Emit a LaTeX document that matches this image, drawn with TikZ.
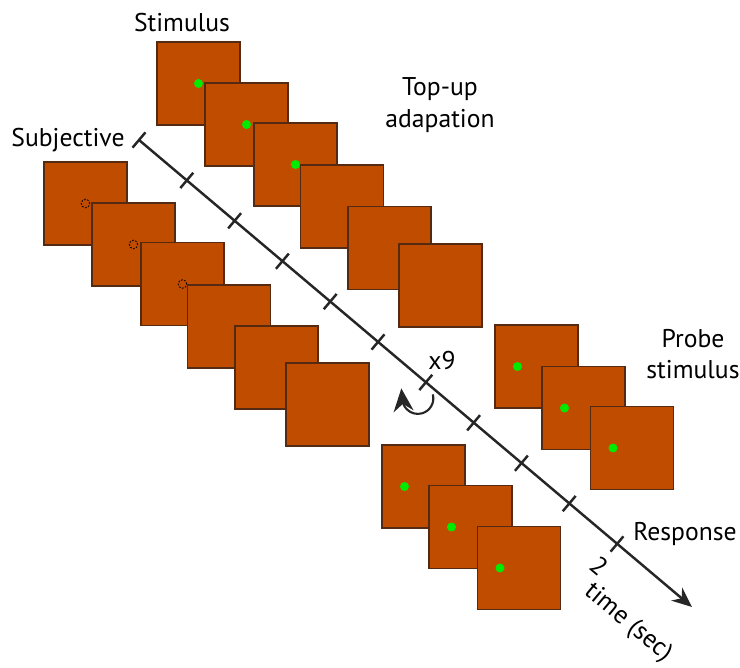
\documentclass[tikz,border=0pt]{standalone}
\usepackage{fontspec}
\setmainfont{PT Sans}
\usepackage{tikz}
\usetikzlibrary{arrows.meta,calc}
\definecolor{screen}{RGB}{192,76,0}
\definecolor{screenedge}{RGB}{84,42,18}
\definecolor{fix}{RGB}{0,235,0}

\begin{document}
\begin{tikzpicture}[x=0.02cm,y=-0.02cm]
	 \tikzstyle{frame}=[rectangle,draw=screenedge,line width=0.6pt,fill=screen,minimum size=1.66cm,inner sep=0pt]
	 \tikzstyle{dot}=[circle,fill=fix,minimum size=0.18cm,inner sep=0pt]
	 \tikzstyle{ghost}=[circle,draw=black!85!screen,dash pattern=on 1pt off 0.8pt,line width=0.55pt,minimum size=0.17cm,inner sep=0pt]
	 \tikzstyle{label}=[font=\fontsize{14.6}{18}\selectfont,align=center,inner sep=0pt]
	 \tikzstyle{axis}=[draw,line width=1.4pt,black!85]
	 \useasboundingbox (0,0) rectangle (740,668);

	 % stimulus, then top-up
	 \node[frame] (s1) at (198.5,83.5) {};
	 \node[dot] (sd1) at (s1.center) {};
	 \node[frame] (s2) at (246.5,124.5) {};
	 \node[dot] (sd2) at (s2.center) {};
	 \node[frame] (s3) at (295.5,164.5) {};
	 \node[dot] (sd3) at (s3.center) {};
	 \node[frame] (s4) at (342,206.5) {};
	 \node[frame] (s5) at (389.5,248) {};
	 \node[frame] (s6) at (440.5,285.5) {};

	 % subjective
	 \node[frame] (j1) at (85.5,203.5) {};
	 \node[ghost] (jd1) at (j1.center) {};
	 \node[frame] (j2) at (133.5,244.5) {};
	 \node[ghost] (jd2) at (j2.center) {};
	 \node[frame] (j3) at (182.5,284) {};
	 \node[ghost] (jd3) at (j3.center) {};
	 \node[frame] (j4) at (229,326.5) {};
	 \node[frame] (j5) at (276.5,367.5) {};
	 \node[frame] (j6) at (327.5,404.5) {};

	 % probe
	 \node[frame] (p1) at (536.5,366.5) {};
	 \node[dot] (pd1) at ($(p1.center)+(-19,0)$) {};
	 \node[frame] (p2) at (583.5,408) {};
	 \node[dot] (pd2) at ($(p2.center)+(-19,0)$) {};
	 \node[frame] (p3) at (632,448) {};
	 \node[dot] (pd3) at ($(p3.center)+(-19,0)$) {};

	 % response
	 \node[frame] (r1) at (423.5,486.5) {};
	 \node[dot] (rd1) at ($(r1.center)+(-19,0)$) {};
	 \node[frame] (r2) at (470.5,527) {};
	 \node[dot] (rd2) at ($(r2.center)+(-19,0)$) {};
	 \node[frame] (r3) at (519,568) {};
	 \node[dot] (rd3) at ($(r3.center)+(-19,0)$) {};

	 % time axis
	 \coordinate (t0) at (139,140);
	 \coordinate (t10) at (617,544);
	 \coordinate (tip) at (692,607);
	 \draw[axis,-{Stealth[length=0.4cm,width=0.34cm]}] (t0) -- (tip);
	 \foreach \i in {0,...,10}
		 \draw[axis] ($(t0)!\i/10!(t10)$) coordinate (t\i)
			 ($(t\i)!0.2cm!90:(tip)$) -- ($(t\i)!0.2cm!-90:(tip)$);
	 \draw[axis,line width=1.2pt,-{Stealth[length=0.46cm,width=0.4cm]}] ($(t6)+(-8,16)$) ++(15,-4) arc (-15:180:15.5) -- ++(-1,-10);

	 \node[label,anchor=base] (stim) at (182,32) {Stimulus};
	 \node[label,anchor=base] (subj) at (68,147) {Subjective};
	 \node[label] (topup) at (440,105) {Top-up\\adapation};
	 \node[label,anchor=base] (rep) at (442,370) {x9};
	 \node[label] (probe) at (693,354) {Probe\\stimulus};
	 \node[label,anchor=base] (resp) at (685,540) {Response};
	 \node[label,rotate=-40] (two) at (599,566) {2};
	 \node[label,rotate=-40] (time) at (628,623) {time (sec)};
\end{tikzpicture}
\end{document}
